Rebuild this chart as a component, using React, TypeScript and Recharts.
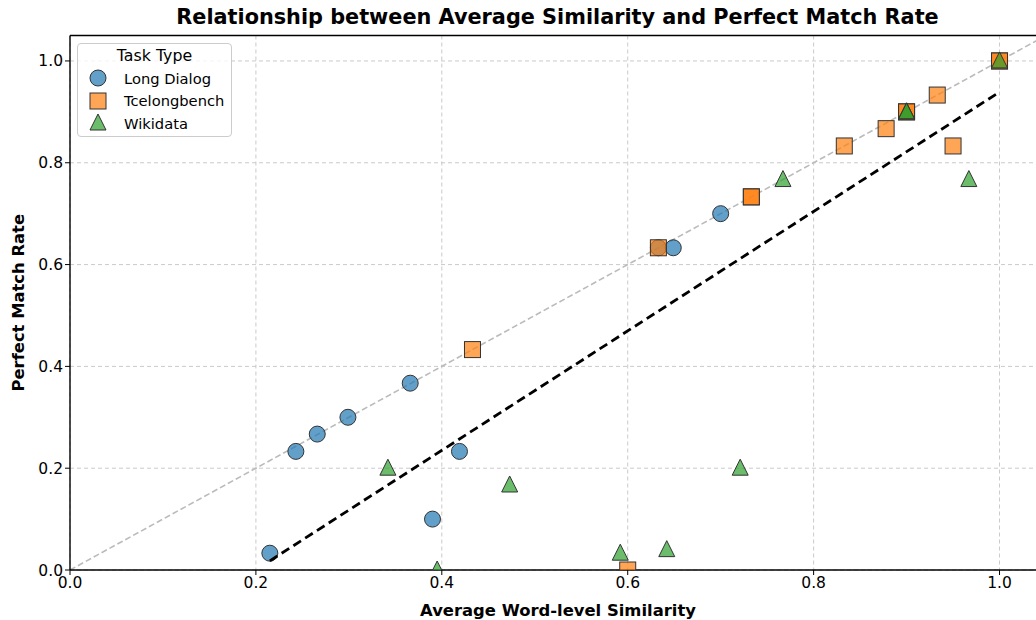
import { ScatterChart, Scatter, XAxis, YAxis, CartesianGrid, ReferenceLine, Label } from 'recharts';

// Long Dialog
const longX = [0.215, 0.243, 0.266, 0.299, 0.366, 0.39, 0.419, 0.633, 0.649, 0.7];
const longY = [0.033, 0.233, 0.267, 0.3, 0.367, 0.1, 0.233, 0.633, 0.633, 0.7];
// Tcelongbench
const tceX = [0.433, 0.6, 0.633, 0.733, 0.733, 0.833, 0.878, 0.9, 0.9, 0.933, 0.95, 1.0, 1.0];
const tceY = [0.433, 0.0, 0.633, 0.733, 0.733, 0.833, 0.867, 0.9, 0.9, 0.933, 0.833, 1.0, 1.0];
// Wikidata
const wikiX = [0.342, 0.395, 0.473, 0.592, 0.642, 0.721, 0.767, 0.9, 0.9, 0.967, 1.0];
const wikiY = [0.2, 0.0, 0.167, 0.033, 0.04, 0.2, 0.767, 0.9, 0.9, 0.767, 1.0];
// fitted trend line endpoints
const trendX = [0.215, 1.0];
const trendY = [0.018, 0.939];

const ticks = [0, 0.2, 0.4, 0.6, 0.8, 1.0];

const zip = (xs: number[], ys: number[]) => xs.map((x, i) => ({ x, y: ys[i] }));

const FONT = '"DejaVu Sans", sans-serif';
const EDGE = '#333';

const Circle = (p: any) => (
  <circle cx={p.cx} cy={p.cy} r={8} fill="#1f77b4" fillOpacity={0.7} stroke={EDGE} strokeWidth={1} />
);
const Square = (p: any) => (
  <rect x={p.cx - 8} y={p.cy - 8} width={16} height={16} fill="#ff7f0e" fillOpacity={0.7} stroke={EDGE} strokeWidth={1} />
);
const Triangle = (p: any) => (
  <polygon
    points={`${p.cx},${p.cy - 9} ${p.cx - 8},${p.cy + 7} ${p.cx + 8},${p.cy + 7}`}
    fill="#2ca02c"
    fillOpacity={0.7}
    stroke={EDGE}
    strokeWidth={1}
  />
);
const Nothing = () => <g />;

const legendItems = [
  { name: 'Long Dialog', Shape: Circle },
  { name: 'Tcelongbench', Shape: Square },
  { name: 'Wikidata', Shape: Triangle },
];

const LegendBox = () => (
  <div
    style={{
      position: 'absolute',
      left: 77,
      top: 43,
      width: 153,
      height: 92,
      border: '1px solid #ccc',
      borderRadius: 4,
      background: 'rgba(255,255,255,0.8)',
      fontFamily: FONT,
      fontSize: 14.7,
      color: '#000',
    }}
  >
    <div style={{ textAlign: 'center', marginTop: 1, height: 22, lineHeight: '22px', fontSize: 15.8 }}>Task Type</div>
    {legendItems.map(({ name, Shape }) => (
      <div key={name} style={{ display: 'flex', alignItems: 'center', height: 22.5 }}>
        <svg width={42} height={22} style={{ flex: 'none' }}>
          <Shape cx={20} cy={11} />
        </svg>
        <span style={{ marginLeft: 4 }}>{name}</span>
      </div>
    ))}
  </div>
);

export default function App() {
  return (
    <div style={{ position: 'absolute', left: 0, top: 0, width: 1036, height: 620, overflow: 'hidden', background: '#fff' }}>
      <div
        style={{
          position: 'absolute',
          left: 0,
          width: 1115,
          top: 5,
          textAlign: 'center',
          fontFamily: FONT,
          fontWeight: 'bold',
          fontSize: 20.8,
        }}
      >
        Relationship between Average Similarity and Perfect Match Rate
      </div>
      <ScatterChart width={1046} height={620} margin={{ top: 35.5, right: 0, bottom: 0, left: 0 }}>
        <CartesianGrid stroke="#c4c4c4" strokeDasharray="4 3" strokeWidth={0.9} verticalValues={ticks} horizontalValues={ticks} />
        <XAxis
          type="number"
          dataKey="x"
          domain={[0, 1.05]}
          ticks={ticks}
          allowDataOverflow
          tickFormatter={(v: number) => v.toFixed(1)}
          height={50}
          stroke="#000"
          tickLine={{ stroke: '#000' }}
          tickSize={5}
          tick={{ fill: '#000', fontSize: 15.5, fontFamily: FONT }}
          axisLine={{ stroke: '#000', strokeWidth: 1.4 }}
        >
          <Label value="Average Word-level Similarity" position="insideBottom" offset={4} style={{ fontFamily: FONT, fontWeight: 'bold', fontSize: 16.4, fill: '#000' }} />
        </XAxis>
        <YAxis
          type="number"
          dataKey="y"
          domain={[0, 1.05]}
          ticks={ticks}
          allowDataOverflow
          tickFormatter={(v: number) => v.toFixed(1)}
          width={70}
          stroke="#000"
          tickLine={{ stroke: '#000' }}
          tickSize={5}
          tick={{ fill: '#000', fontSize: 15.5, fontFamily: FONT }}
          axisLine={{ stroke: '#000', strokeWidth: 1.4 }}
        >
          <Label value="Perfect Match Rate" angle={-90} position="insideLeft" offset={18} style={{ textAnchor: 'middle', fontFamily: FONT, fontWeight: 'bold', fontSize: 16.4, fill: '#000' }} />
        </YAxis>
        <ReferenceLine y={1.05} stroke="#000" strokeWidth={1.4} />
        <ReferenceLine
          segment={[{ x: 0, y: 0 }, { x: 1.05, y: 1.05 }]}
          stroke="#bbbbbb"
          strokeWidth={1.6}
          strokeDasharray="6 3"
          ifOverflow="hidden"
        />
        <Scatter name="Long Dialog" data={zip(longX, longY)} shape={Circle} isAnimationActive={false} legendType="none" />
        <Scatter name="Tcelongbench" data={zip(tceX, tceY)} shape={Square} isAnimationActive={false} legendType="none" />
        <Scatter name="Wikidata" data={zip(wikiX, wikiY)} shape={Triangle} isAnimationActive={false} legendType="none" />
        <Scatter
          name="Trend"
          data={zip(trendX, trendY)}
          shape={Nothing}
          line={{ stroke: '#000', strokeWidth: 2.8, strokeDasharray: '9 5' }}
          isAnimationActive={false}
          legendType="none"
        />
      </ScatterChart>
      <LegendBox />
    </div>
  );
}
